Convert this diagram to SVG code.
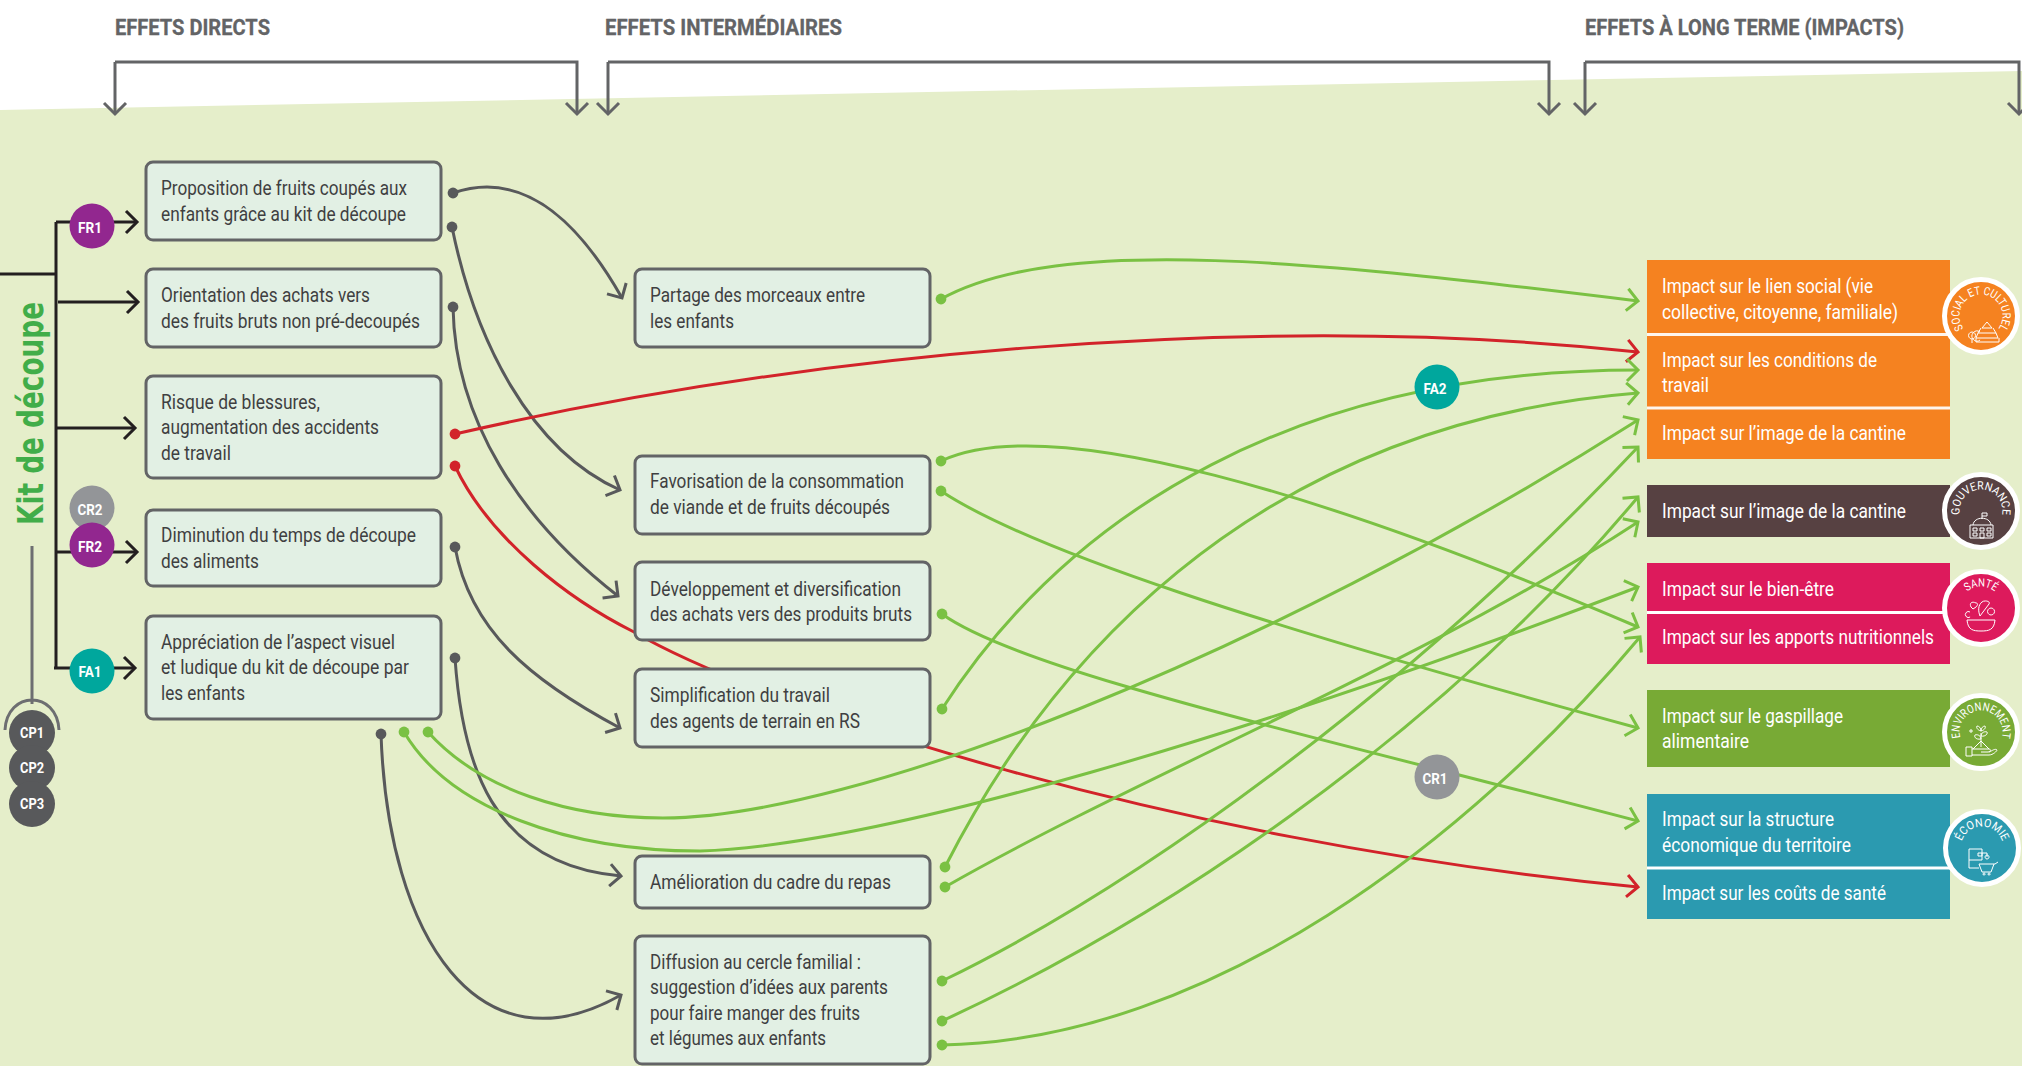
<svg xmlns="http://www.w3.org/2000/svg" width="2022" height="1066" viewBox="0 0 2022 1066">
<style>
text{font-family:Roboto,"Liberation Sans",sans-serif}
.h{font-size:22px;font-weight:700;fill:#636466;stroke:#636466;stroke-width:.3px}
.t{font-size:20px;fill:#3f3f41}
.w{font-size:20px;fill:#fff}
.b{font-size:15px;font-weight:700;fill:#fff;text-anchor:middle}
.box{fill:#e2f0e4;stroke:#636466;stroke-width:3}
.c{fill:none;stroke-width:3}
.gy{stroke:#58595b;marker-end:url(#ag)}
.gr{stroke:#7ac143;marker-end:url(#an)}
.rd{stroke:#d2232a;marker-end:url(#ar)}
.bk{stroke:#231f20;marker-end:url(#ak)}
.br{stroke:#636466;marker-end:url(#ab)}
.ic{fill:none;stroke:#fff;stroke-width:1}
.a{font-size:11.5px;fill:#fff;text-anchor:middle}
</style>
<defs>
<marker id="ag" markerUnits="userSpaceOnUse" viewBox="-22 -16 32 32" refX="0" refY="0" markerWidth="32" markerHeight="32" orient="auto"><path d="M-11 -11L0 0L-11 11" fill="none" stroke="#58595b" stroke-width="3"/></marker>
<marker id="an" markerUnits="userSpaceOnUse" viewBox="-22 -16 32 32" refX="0" refY="0" markerWidth="32" markerHeight="32" orient="auto"><path d="M-11 -11L0 0L-11 11" fill="none" stroke="#7ac143" stroke-width="3"/></marker>
<marker id="ar" markerUnits="userSpaceOnUse" viewBox="-22 -16 32 32" refX="0" refY="0" markerWidth="32" markerHeight="32" orient="auto"><path d="M-11 -11L0 0L-11 11" fill="none" stroke="#d2232a" stroke-width="3"/></marker>
<marker id="ak" markerUnits="userSpaceOnUse" viewBox="-22 -16 32 32" refX="0" refY="0" markerWidth="32" markerHeight="32" orient="auto"><path d="M-11 -11L0 0L-11 11" fill="none" stroke="#231f20" stroke-width="3"/></marker>
<marker id="ab" markerUnits="userSpaceOnUse" viewBox="-22 -16 32 32" refX="0" refY="0" markerWidth="32" markerHeight="32" orient="auto"><path d="M-11 -11L0 0L-11 11" fill="none" stroke="#636466" stroke-width="3"/></marker>
<path id="arc" d="M-3.7 21.2A21.5 21.5 0 1 1 3.7 21.2"/>
</defs>
<rect width="2022" height="1066" fill="#fff"/>
<polygon id="background" points="0,110 2022,71 2022,1066 0,1066" fill="#e5eeca"/>
<g id="headers">
<text class="h" x="115" y="35" textLength="155" lengthAdjust="spacingAndGlyphs">EFFETS DIRECTS</text>
<text class="h" x="605" y="35" textLength="237" lengthAdjust="spacingAndGlyphs">EFFETS INTERMÉDIAIRES</text>
<text class="h" x="1585" y="35" textLength="319" lengthAdjust="spacingAndGlyphs">EFFETS À LONG TERME (IMPACTS)</text>
<path class="c br" d="M115 62V114"/><path class="c br" d="M115 62H577V114"/>
<path class="c br" d="M608 62V114"/><path class="c br" d="M608 62H1549V114"/>
<path class="c br" d="M1585 62V114"/><path class="c br" d="M1585 62H2019V114"/>
</g>
<g id="connectors">
<path class="c" stroke="#231f20" d="M0 274H55M56 222V668"/>
<path class="c bk" d="M56 222H137"/>
<path class="c bk" d="M58 302H138"/>
<path class="c bk" d="M56 428H135"/>
<path class="c bk" d="M56 552H137"/>
<path class="c bk" d="M54 668H135"/>
<path class="c" stroke="#6d6e71" d="M32 546V704M5 730C7 690 57 690 59 730"/>
<g class="c">
<path class="gy" d="M453 193C520 170 575 215 622 298"/>
<path class="gy" d="M452 227C475 340 530 450 620 490"/>
<path class="gy" d="M453 307C455 420 520 520 618 596"/>
<path class="gy" d="M455 547C470 630 530 680 620 728"/>
<path class="gy" d="M455 658C462 760 490 865 621 876"/>
<path class="gy" d="M381 734C388 940 480 1075 621 995"/>
<path class="rd" d="M455 434C800 355 1250 310 1638 352"/>
<path class="rd" d="M455 466C490 540 570 600 634 632C750 700 1150 840 1638 887"/>
<path class="gr" d="M941 299C1060 233 1320 262 1638 301"/>
<path class="gr" d="M942 709C1070 510 1300 370 1638 370"/>
<path class="gr" d="M945 867C1040 680 1240 425 1638 393"/>
<path class="gr" d="M941 491C1030 550 1260 625 1638 728"/>
<path class="gr" d="M941 461C1050 410 1330 495 1638 627"/>
<path class="gr" d="M942 614C1020 670 1290 730 1638 821"/>
<path class="gr" d="M428 732C480 790 570 818 663 818C850 818 1260 660 1638 420"/>
<path class="gr" d="M404 732C450 810 570 851 700 851C880 845 1250 735 1638 587"/>
<path class="gr" d="M945 887C1150 770 1420 665 1638 522"/>
<path class="gr" d="M942 981C1130 890 1400 700 1638 447"/>
<path class="gr" d="M942 1021C1150 925 1430 745 1638 497"/>
<path class="gr" d="M942 1045C1210 1040 1470 840 1640 637"/>
</g>
<g fill="#58595b"><circle cx="453" cy="193" r="5.4"/><circle cx="452" cy="227" r="5.4"/><circle cx="453" cy="307" r="5.4"/><circle cx="455" cy="547" r="5.4"/><circle cx="455" cy="658" r="5.4"/><circle cx="381" cy="734" r="5.4"/></g>
<g fill="#d2232a"><circle cx="455" cy="434" r="5.4"/><circle cx="455" cy="466" r="5.4"/></g>
<g fill="#7ac143"><circle cx="941" cy="299" r="5.4"/><circle cx="942" cy="709" r="5.4"/><circle cx="945" cy="867" r="5.4"/><circle cx="941" cy="491" r="5.4"/><circle cx="941" cy="461" r="5.4"/><circle cx="942" cy="614" r="5.4"/><circle cx="428" cy="732" r="5.4"/><circle cx="404" cy="732" r="5.4"/><circle cx="945" cy="887" r="5.4"/><circle cx="942" cy="981" r="5.4"/><circle cx="942" cy="1021" r="5.4"/><circle cx="942" cy="1045" r="5.4"/></g>
</g>
<g id="kit"><text transform="translate(43 525) rotate(-90)" font-size="36" font-weight="700" fill="#41ad49" textLength="223" lengthAdjust="spacingAndGlyphs" style="font-family:'DejaVu Sans',sans-serif">Kit de découpe</text></g>
<g id="cp1"><circle cx="32" cy="733" r="23" fill="#58595b"/><text class="b" x="32" y="738" textLength="24" lengthAdjust="spacingAndGlyphs">CP1</text></g>
<g id="cp2"><circle cx="32" cy="768" r="23" fill="#58595b"/><text class="b" x="32" y="773" textLength="24" lengthAdjust="spacingAndGlyphs">CP2</text></g>
<g id="cp3"><circle cx="32" cy="804" r="23" fill="#58595b"/><text class="b" x="32" y="809" textLength="24" lengthAdjust="spacingAndGlyphs">CP3</text></g>
<g id="fr1"><circle cx="92" cy="226" r="22.5" fill="#92278f"/><text class="b" x="90" y="233" textLength="24" lengthAdjust="spacingAndGlyphs">FR1</text></g>
<g id="cr2"><circle cx="92" cy="508" r="22.5" fill="#939598"/><text class="b" x="90" y="515" textLength="25" lengthAdjust="spacingAndGlyphs">CR2</text></g>
<g id="fr2"><circle cx="92" cy="545" r="22.5" fill="#92278f"/><text class="b" x="90" y="552" textLength="24" lengthAdjust="spacingAndGlyphs">FR2</text></g>
<g id="fa1"><circle cx="92" cy="671" r="22.5" fill="#00a79d"/><text class="b" x="90" y="677" textLength="23" lengthAdjust="spacingAndGlyphs">FA1</text></g>
<g id="fa2"><circle cx="1437" cy="387" r="22.5" fill="#00a79d"/><text class="b" x="1435" y="394" textLength="23" lengthAdjust="spacingAndGlyphs">FA2</text></g>
<g id="cr1"><circle cx="1437" cy="777" r="22.5" fill="#939598"/><text class="b" x="1435" y="784" textLength="25" lengthAdjust="spacingAndGlyphs">CR1</text></g>
<g id="d1"><rect class="box" x="146" y="162" width="295" height="78" rx="7"/><text class="t" x="161" y="195" textLength="246" lengthAdjust="spacingAndGlyphs">Proposition de fruits coupés aux</text><text class="t" x="161" y="221" textLength="245" lengthAdjust="spacingAndGlyphs">enfants grâce au kit de découpe</text></g>
<g id="d2"><rect class="box" x="146" y="269" width="295" height="78" rx="7"/><text class="t" x="161" y="302" textLength="209" lengthAdjust="spacingAndGlyphs">Orientation des achats vers</text><text class="t" x="161" y="328" textLength="259" lengthAdjust="spacingAndGlyphs">des fruits bruts non pré-decoupés</text></g>
<g id="d3"><rect class="box" x="146" y="376" width="295" height="102" rx="7"/><text class="t" x="161" y="409" textLength="159" lengthAdjust="spacingAndGlyphs">Risque de blessures,</text><text class="t" x="161" y="434" textLength="218" lengthAdjust="spacingAndGlyphs">augmentation des accidents</text><text class="t" x="161" y="460" textLength="70" lengthAdjust="spacingAndGlyphs">de travail</text></g>
<g id="d4"><rect class="box" x="146" y="510" width="295" height="76" rx="7"/><text class="t" x="161" y="542" textLength="255" lengthAdjust="spacingAndGlyphs">Diminution du temps de découpe</text><text class="t" x="161" y="568" textLength="98" lengthAdjust="spacingAndGlyphs">des aliments</text></g>
<g id="d5"><rect class="box" x="146" y="616" width="295" height="103" rx="7"/><text class="t" x="161" y="649" textLength="234" lengthAdjust="spacingAndGlyphs">Appréciation de l’aspect visuel</text><text class="t" x="161" y="674" textLength="248" lengthAdjust="spacingAndGlyphs">et ludique du kit de découpe par</text><text class="t" x="161" y="700" textLength="84" lengthAdjust="spacingAndGlyphs">les enfants</text></g>
<g id="m1"><rect class="box" x="635" y="269" width="295" height="78" rx="7"/><text class="t" x="650" y="302" textLength="215" lengthAdjust="spacingAndGlyphs">Partage des morceaux entre</text><text class="t" x="650" y="328" textLength="84" lengthAdjust="spacingAndGlyphs">les enfants</text></g>
<g id="m2"><rect class="box" x="635" y="456" width="295" height="78" rx="7"/><text class="t" x="650" y="488" textLength="254" lengthAdjust="spacingAndGlyphs">Favorisation de la consommation</text><text class="t" x="650" y="514" textLength="240" lengthAdjust="spacingAndGlyphs">de viande et de fruits découpés</text></g>
<g id="m3"><rect class="box" x="635" y="562" width="295" height="78" rx="7"/><text class="t" x="650" y="596" textLength="251" lengthAdjust="spacingAndGlyphs">Développement et diversification</text><text class="t" x="650" y="621" textLength="262" lengthAdjust="spacingAndGlyphs">des achats vers des produits bruts</text></g>
<g id="m4"><rect class="box" x="635" y="669" width="295" height="78" rx="7"/><text class="t" x="650" y="702" textLength="180" lengthAdjust="spacingAndGlyphs">Simplification du travail</text><text class="t" x="650" y="728" textLength="210" lengthAdjust="spacingAndGlyphs">des agents de terrain en RS</text></g>
<g id="m5"><rect class="box" x="635" y="856" width="295" height="52" rx="7"/><text class="t" x="650" y="889" textLength="241" lengthAdjust="spacingAndGlyphs">Amélioration du cadre du repas</text></g>
<g id="m6"><rect class="box" x="635" y="936" width="295" height="128" rx="7"/><text class="t" x="650" y="969" textLength="211" lengthAdjust="spacingAndGlyphs">Diffusion au cercle familial :</text><text class="t" x="650" y="994" textLength="238" lengthAdjust="spacingAndGlyphs">suggestion d’idées aux parents</text><text class="t" x="650" y="1020" textLength="210" lengthAdjust="spacingAndGlyphs">pour faire manger des fruits</text><text class="t" x="650" y="1045" textLength="176" lengthAdjust="spacingAndGlyphs">et légumes aux enfants</text></g>
<g id="i-social">
<rect x="1647" y="260" width="303" height="199" fill="#f58220"/>
<path d="M1647 334.5H1950M1647 408H1950" stroke="#fff" stroke-width="3" opacity=".92"/>
<text class="w" x="1662" y="293" textLength="211" lengthAdjust="spacingAndGlyphs">Impact sur le lien social (vie</text>
<text class="w" x="1662" y="319" textLength="236" lengthAdjust="spacingAndGlyphs">collective, citoyenne, familiale)</text>
<text class="w" x="1662" y="367" textLength="215" lengthAdjust="spacingAndGlyphs">Impact sur les conditions de</text>
<text class="w" x="1662" y="392" textLength="47" lengthAdjust="spacingAndGlyphs">travail</text>
<text class="w" x="1662" y="440" textLength="244" lengthAdjust="spacingAndGlyphs">Impact sur l’image de la cantine</text>
<g transform="translate(1981 316)"><circle r="36.5" fill="#f58220" stroke="#fff" stroke-width="5"/>
<text class="a"><textPath href="#arc" startOffset="50%" textLength="94" lengthAdjust="spacingAndGlyphs">SOCIAL ET CULTUREL</textPath></text>
<path class="ic" d="M6 6L1 12H11ZM0 12L-3 17H15L12 12M-3 17L-5 22H17L15 17M-5 22V26H18V22M-9 23a3.5 3.5 0 1 1 .1 0M-9 23V27M-1 16a5 5 0 1 0 .1 8"/></g>
</g>
<g id="i-gouv">
<rect x="1647" y="485" width="303" height="52" fill="#574142"/>
<text class="w" x="1662" y="518" textLength="244" lengthAdjust="spacingAndGlyphs">Impact sur l’image de la cantine</text>
<g transform="translate(1981 511)"><circle r="36.5" fill="#574142" stroke="#fff" stroke-width="5"/>
<text class="a"><textPath href="#arc" startOffset="50%" textLength="75" lengthAdjust="spacingAndGlyphs">GOUVERNANCE</textPath></text>
<path class="ic" d="M1 2V8M1 2H6V5H1M-8 14C-7 5 9 5 10 14M-11 14H12V27H-11ZM-8 17H-4V20H-8ZM-1 17H3V20H-1ZM6 17H10V20H6ZM-8 22H-4V25H-8ZM6 22H10V25H6ZM-1 22H3V27H-1Z"/></g>
</g>
<g id="i-sante">
<rect x="1647" y="563" width="303" height="101" fill="#dd1a5c"/>
<path d="M1647 612.5H1950" stroke="#fff" stroke-width="3"/>
<text class="w" x="1662" y="596" textLength="172" lengthAdjust="spacingAndGlyphs">Impact sur le bien-être</text>
<text class="w" x="1662" y="644" textLength="272" lengthAdjust="spacingAndGlyphs">Impact sur les apports nutritionnels</text>
<g transform="translate(1981 608)"><circle r="36.5" fill="#dd1a5c" stroke="#fff" stroke-width="5"/>
<text class="a"><textPath href="#arc" startOffset="50%" textLength="30" lengthAdjust="spacingAndGlyphs">SANTÉ</textPath></text>
<path class="ic" d="M-14 12H14C13 22 8 23 0 23C-8 23 -13 22 -14 12M-5 -5C-9 -7 -12 -5 -10 -1L-8 1L-5 -1C-3 -3 -3 -5 -5 -5M-11 4a3 3 0 1 0 .1 5M-1 8L8 -4C10 -7 3 -8 1 -6C-3 -3 -3 3 -1 8M10 7a3.5 3.5 0 1 1 .1 0"/></g>
</g>
<g id="i-env">
<rect x="1647" y="690" width="303" height="77" fill="#78aa35"/>
<text class="w" x="1662" y="723" textLength="181" lengthAdjust="spacingAndGlyphs">Impact sur le gaspillage</text>
<text class="w" x="1662" y="748" textLength="87" lengthAdjust="spacingAndGlyphs">alimentaire</text>
<g transform="translate(1981 732)"><circle r="36.5" fill="#78aa35" stroke="#fff" stroke-width="5"/>
<text class="a"><textPath href="#arc" startOffset="50%" textLength="79" lengthAdjust="spacingAndGlyphs">ENVIRONNEMENT</textPath></text>
<path class="ic" d="M0 15V1M0 7C-6 8 -7 4 -6 3C-3 2 0 4 0 7M0 4C5 5 7 1 6 0C3 -1 0 1 0 4M0 -1C-4 -2 -5 -5 -4 -6C-2 -6 0 -4 0 -1M0 -1C4 -2 5 -5 4 -6C2 -6 0 -4 0 -1M-8 17L0 9L8 17M-15 15H-9V24H-15ZM-9 17H8C10 17 10 20 7 20H0M-9 23H8C12 23 16 19 16 18C14 16 11 19 8 20M-12 -1H-8M-10 -3V1"/></g>
</g>
<g id="i-eco">
<rect x="1647" y="794" width="303" height="125" fill="#2b9ab0"/>
<path d="M1647 868H1950" stroke="#fff" stroke-width="3"/>
<text class="w" x="1662" y="826" textLength="172" lengthAdjust="spacingAndGlyphs">Impact sur la structure</text>
<text class="w" x="1662" y="852" textLength="189" lengthAdjust="spacingAndGlyphs">économique du territoire</text>
<text class="w" x="1662" y="900" textLength="224" lengthAdjust="spacingAndGlyphs">Impact sur les coûts de santé</text>
<g transform="translate(1982 848)"><circle r="36.5" fill="#2b9ab0" stroke="#fff" stroke-width="5"/>
<text class="a"><textPath href="#arc" startOffset="50%" textLength="54" lengthAdjust="spacingAndGlyphs">ÉCONOMIE</textPath></text>
<path class="ic" d="M-13 1H0V12H-13ZM-4 5h4v3h-4ZM0 5H5V9M-13 12V20H-3M-3 16H13M-3 16L0 24H9L12 16M13 16L16 14M2 27a1 1 0 1 1 .1 0M7 27a1 1 0 1 1 .1 0M5 11a2 2 0 1 1 .1 0"/></g>
</g>
</svg>
